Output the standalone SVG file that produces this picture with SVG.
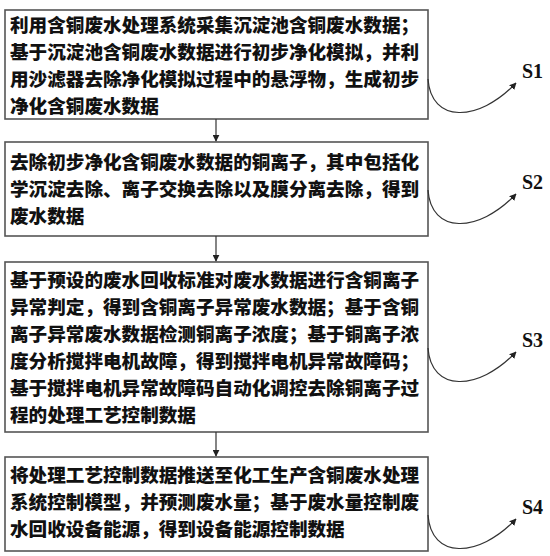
<svg xmlns="http://www.w3.org/2000/svg" width="550" height="556" viewBox="0 0 550 556">
<defs>
<style>
.box{fill:#fff;stroke:#555;stroke-width:1.6}
.t{font-family:"Noto Sans CJK SC","Noto Sans CJK JP",sans-serif;font-weight:900;font-size:18.6px;fill:#111}
.lbl{font-family:"Liberation Serif",serif;font-weight:bold;font-size:20px;fill:#111}
.ln{fill:none;stroke:#333;stroke-width:1.2}
</style>
<marker id="ah" viewBox="0 0 10 10" refX="9" refY="5" markerWidth="7" markerHeight="7" orient="auto" markerUnits="userSpaceOnUse">
<path d="M0,0 L10,5 L0,10 z" fill="#222"/>
</marker>
</defs>
<rect width="550" height="556" fill="#fff"/>
<g id="node-s1">
<rect class="box" x="5" y="10" width="423" height="109"/>
<text class="t" x="10" y="32">利用含铜废水处理系统采集沉淀池含铜废水数据；</text>
<text class="t" x="10" y="59">基于沉淀池含铜废水数据进行初步净化模拟，并利</text>
<text class="t" x="10" y="86">用沙滤器去除净化模拟过程中的悬浮物，生成初步</text>
<text class="t" x="10" y="113">净化含铜废水数据</text>
</g>
<g id="node-s2">
<rect class="box" x="5" y="142" width="423" height="94"/>
<text class="t" x="10" y="169">去除初步净化含铜废水数据的铜离子，其中包括化</text>
<text class="t" x="10" y="196">学沉淀去除、离子交换去除以及膜分离去除，得到</text>
<text class="t" x="10" y="223">废水数据</text>
</g>
<g id="node-s3">
<rect class="box" x="5" y="262" width="423" height="170"/>
<text class="t" x="10" y="287">基于预设的废水回收标准对废水数据进行含铜离子</text>
<text class="t" x="10" y="314">异常判定，得到含铜离子异常废水数据；基于含铜</text>
<text class="t" x="10" y="341">离子异常废水数据检测铜离子浓度；基于铜离子浓</text>
<text class="t" x="10" y="368">度分析搅拌电机故障，得到搅拌电机异常故障码；</text>
<text class="t" x="10" y="395">基于搅拌电机异常故障码自动化调控去除铜离子过</text>
<text class="t" x="10" y="422">程的处理工艺控制数据</text>
</g>
<g id="node-s4">
<rect class="box" x="5" y="457" width="423" height="94"/>
<text class="t" x="10" y="482">将处理工艺控制数据推送至化工生产含铜废水处理</text>
<text class="t" x="10" y="509">系统控制模型，并预测废水量；基于废水量控制废</text>
<text class="t" x="10" y="536">水回收设备能源，得到设备能源控制数据</text>
</g>
<g id="labels">
<text class="lbl" x="522" y="78">S1</text>
<text class="lbl" x="522" y="189">S2</text>
<text class="lbl" x="522" y="347">S3</text>
<text class="lbl" x="522" y="514">S4</text>
</g>
<g id="connectors">
<line class="ln" x1="216" y1="119" x2="216" y2="141" marker-end="url(#ah)"/>
<line class="ln" x1="216" y1="236" x2="216" y2="261" marker-end="url(#ah)"/>
<line class="ln" x1="216" y1="432" x2="216" y2="456" marker-end="url(#ah)"/>
<path class="ln" d="M428,79 C431,123 478,123 516,83" marker-end="url(#ah)"/>
<path class="ln" d="M428,190 C431,234 478,234 516,194" marker-end="url(#ah)"/>
<path class="ln" d="M428,348 C431,392 478,392 516,352" marker-end="url(#ah)"/>
<path class="ln" d="M428,515 C431,559 478,559 516,519" marker-end="url(#ah)"/>
</g>
</svg>
